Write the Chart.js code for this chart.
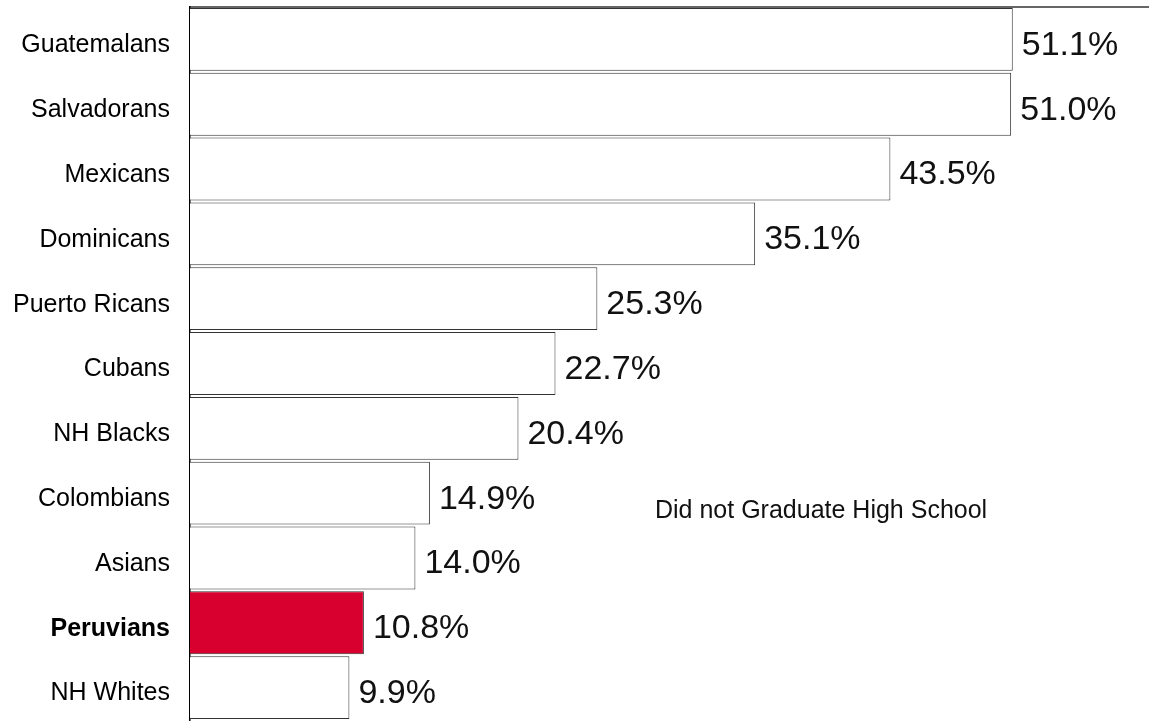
<!doctype html>
<html lang="en">
  <head>
    <meta charset="utf-8">
    <title>Did not Graduate High School</title>
    <script src="https://cdn.jsdelivr.net/npm/chart.js"></script>
    <style>
      html, body { margin: 0; padding: 0; background: #fff; }
      #wrap { width: 1149px; height: 722px; }
    </style>
  </head>
  <body>
    <div id="wrap">
      <canvas id="barChart" width="1149" height="722"></canvas>
    </div>

  <script>

  // data
  const groups = ['Guatemalans', 'Salvadorans', 'Mexicans', 'Dominicans', 'Puerto Ricans',
                  'Cubans', 'NH Blacks', 'Colombians', 'Asians', 'Peruvians', 'NH Whites'];
  const pctNoDiploma = [51.1, 51.0, 43.5, 35.1, 25.3, 22.7, 20.4, 14.9, 14.0, 10.8, 9.9];
  const highlight = 'Peruvians';

  const fontFamily = '"Liberation Sans", Arial, sans-serif';

  // value labels at the end of each bar + the floating caption
  const labelPlugin = {
    id: 'valueLabels',
    afterDatasetsDraw(chart) {
      const ctx = chart.ctx;
      const meta = chart.getDatasetMeta(0);
      ctx.save();
      ctx.fillStyle = '#111';
      ctx.font = '34px ' + fontFamily;
      ctx.textAlign = 'left';
      ctx.textBaseline = 'middle';
      meta.data.forEach((bar, i) => {
        ctx.fillText(pctNoDiploma[i].toFixed(1) + '%', bar.x + 9, bar.y + 6);
      });
      ctx.font = '25px ' + fontFamily;
      ctx.fillText('Did not Graduate High School', 655, 511);
      ctx.restore();
    }
  };

  const ctx1 = document.getElementById('barChart').getContext('2d');
  const chart1 = new Chart(ctx1, {
    type: 'bar',
    data: {
      labels: groups,
      datasets: [{
        label: 'Did not Graduate High School',
        data: pctNoDiploma,
        backgroundColor: groups.map(g => g === highlight ? '#d7002e' : '#ffffff'),
        borderColor: '#333333',
        borderWidth: 1,
        barPercentage: 0.97,
        categoryPercentage: 1.0
      }]
    },
    options: {
      indexAxis: 'y',
      responsive: false,
      animation: false,
      layout: { padding: { top: 7, right: 1, bottom: 2, left: 0 } },
      plugins: {
        legend: { display: false },
        tooltip: { enabled: false }
      },
      scales: {
        x: {
          position: 'top',
          min: 0,
          max: 59.5,
          grid: { display: false, drawTicks: false },
          border: { display: true, color: '#666', width: 2 },
          ticks: { display: false },
          afterFit: scale => { scale.height = 0; }
        },
        y: {
          grid: { display: false, drawTicks: false },
          border: { display: true, color: '#000', width: 1.5 },
          // fixed width, and no extra room above/below for the labels
          afterFit: scale => {
            scale.width = 190;
            scale.paddingTop = 0;
            scale.paddingBottom = 0;
          },
          ticks: {
            padding: 20,
            labelOffset: 6,
            color: '#000',
            font: c => ({
              family: fontFamily,
              size: 25,
              weight: groups[c.index] === highlight ? 'bold' : 'normal'
            })
          }
        }
      }
    },
    plugins: [labelPlugin]
  });

  </script>
  </body>
</html>
